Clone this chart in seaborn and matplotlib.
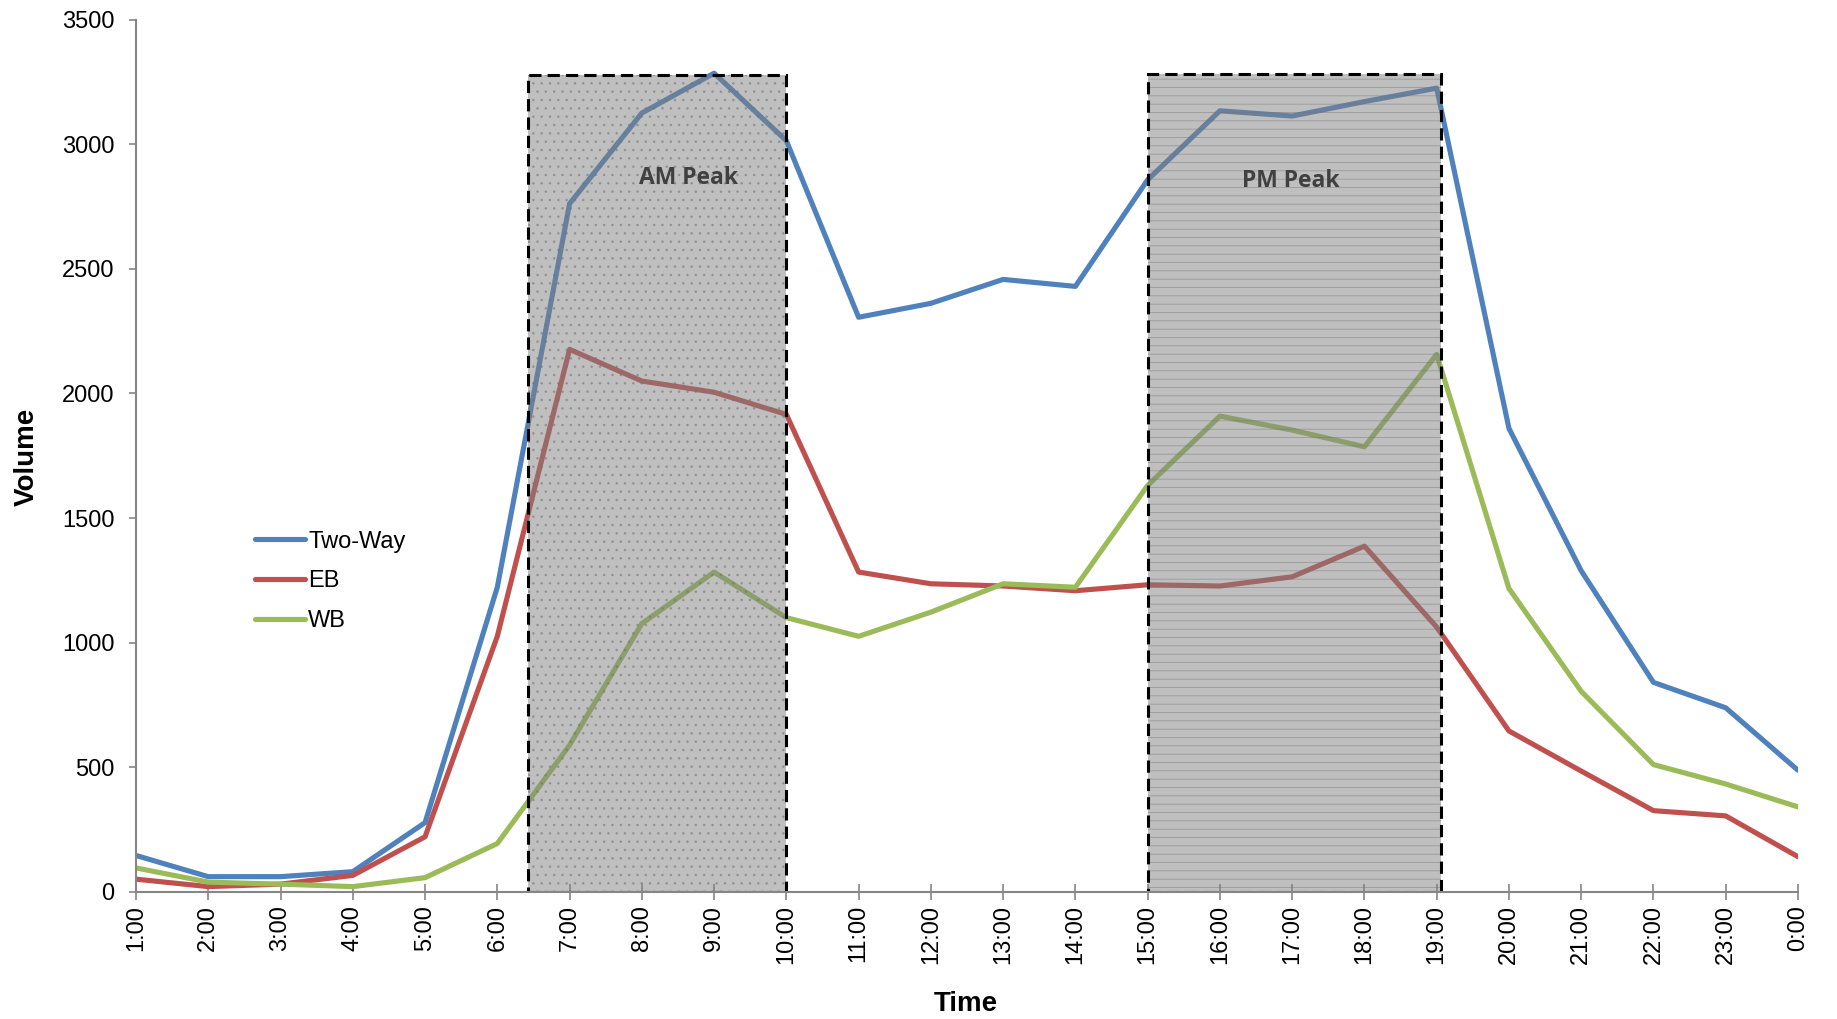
import matplotlib
matplotlib.use("Agg")
import matplotlib.pyplot as plt
import matplotlib.patches as mpatches
import seaborn as sns
import pandas as pd
import numpy as np

times = ["1:00", "2:00", "3:00", "4:00", "5:00", "6:00", "7:00", "8:00", "9:00", "10:00",
         "11:00", "12:00", "13:00", "14:00", "15:00", "16:00", "17:00", "18:00", "19:00",
         "20:00", "21:00", "22:00", "23:00", "0:00"]
two_way = [145, 60, 60, 80, 277, 1222, 2762, 3126, 3286, 3015, 2306, 2362, 2458, 2430,
           2858, 3135, 3114, 3172, 3226, 1860, 1288, 840, 738, 487]
eb = [50, 20, 30, 65, 220, 1025, 2177, 2050, 2005, 1916, 1283, 1236, 1227, 1208,
      1232, 1227, 1264, 1387, 1062, 645, 484, 325, 304, 140]
wb = [95, 38, 30, 20, 56, 193, 588, 1076, 1283, 1100, 1025, 1122, 1236, 1222,
      1631, 1909, 1853, 1786, 2157, 1217, 804, 510, 432, 340]
series_names = ["Two-Way", "EB", "WB"]
series_colors = ["#4F81BD", "#C0504D", "#9BBB59"]
y_ticks = [0, 500, 1000, 1500, 2000, 2500, 3000, 3500]

# peak windows (in category-index units) and labels
peak_labels = ["AM Peak", "PM Peak"]
peak_start = [5.43, 14.0]
peak_end = [9.0, 18.06]
peak_top = [3280, 3282]
peak_hatch = ["..", "--"]
peak_label_x = [7.65, 15.98]
peak_label_y = [2865, 2855]

df = pd.DataFrame({
    "idx": list(range(len(times))) * 3,
    "Volume": two_way + eb + wb,
    "Series": [series_names[0]] * len(times) + [series_names[1]] * len(times) + [series_names[2]] * len(times),
})

sns.set_style("white")
plt.rcParams["font.family"] = ["Liberation Sans", "DejaVu Sans"]
plt.rcParams["hatch.linewidth"] = 0.6

fig = plt.figure(figsize=(18.37, 10.19), dpi=100)
ax = fig.add_axes([136 / 1837, 1 - 891.6 / 1019, (1798 - 136) / 1837, (891.6 - 19.9) / 1019])

sns.lineplot(data=df, x="idx", y="Volume", hue="Series", palette=series_colors,
             hue_order=series_names, linewidth=3.7, ax=ax, zorder=2)

for s, e, t, h, lab, lx, ly in zip(peak_start, peak_end, peak_top, peak_hatch,
                                   peak_labels, peak_label_x, peak_label_y):
    fill = mpatches.Rectangle((s, 0), e - s, t, facecolor=(0.5, 0.5, 0.5, 0.5),
                              edgecolor=(0.45, 0.45, 0.45, 0.5), linewidth=0, hatch=h, zorder=3)
    ax.add_patch(fill)
    border = mpatches.Rectangle((s, 0), e - s, t, facecolor="none", edgecolor="black",
                                linewidth=2.2, linestyle=(0, (4, 2)), zorder=4)
    ax.add_patch(border)
    ax.text(lx, ly, lab, ha="center", va="center", fontsize=16.5, fontweight="bold",
            color="#404040", family=["Open Sans", "DejaVu Sans"], zorder=5)

ax.set_xlim(0, len(times) - 1)
ax.set_ylim(0, 3500)
ax.set_xticks(range(len(times)))
ax.set_xticklabels(times, rotation=90, fontsize=17, color="black")
ax.set_yticks(y_ticks)
ax.set_yticklabels([str(v) for v in y_ticks], fontsize=17, color="black")

for side in ["top", "right"]:
    ax.spines[side].set_visible(False)
for side in ["left", "bottom"]:
    ax.spines[side].set_color("#868686")
    ax.spines[side].set_linewidth(1.5)
    ax.spines[side].set_zorder(6)

ax.tick_params(axis="x", direction="inout", length=11, width=1.2, color="#868686", pad=4)
ax.tick_params(axis="y", direction="out", length=5, width=1.2, color="#868686", pad=10.5)
ax.tick_params(left=True, bottom=True)

ax.set_xlabel("")
ax.set_ylabel("")
fig.text(966 / 1837, 1 - 1004 / 1019, "Time", ha="center", va="center",
         fontsize=20, fontweight="bold", color="black")
fig.text(27 / 1837, 1 - 457 / 1019, "Volume", ha="center", va="center",
         fontsize=20, fontweight="bold", rotation=90, color="black")

handles, labels = ax.get_legend_handles_labels()
leg = ax.legend(handles, labels, loc="center left", bbox_to_anchor=(0.0716, 0.356),
                frameon=False, fontsize=17, handlelength=2.1, handletextpad=0.15,
                labelspacing=0.75, borderaxespad=0, borderpad=0)
for txt in leg.get_texts():
    txt.set_color("black")
for line in leg.get_lines():
    line.set_linewidth(3.7)
    line.set_solid_capstyle("round")

fig.savefig("out.png", dpi=100, facecolor="white")
